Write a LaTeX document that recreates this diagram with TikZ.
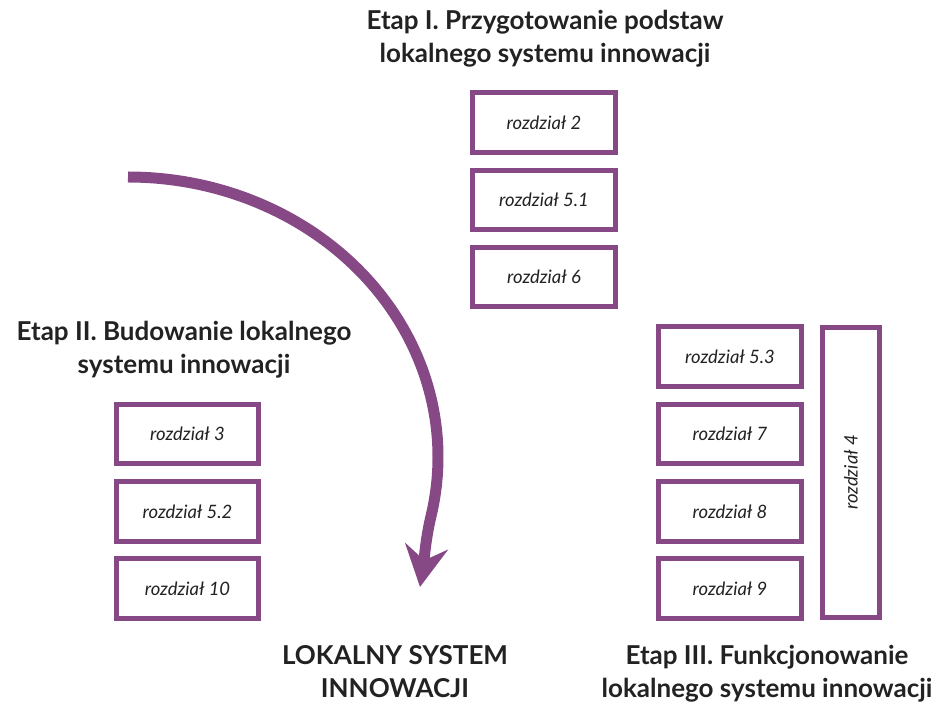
\documentclass[tikz,border=0pt]{standalone}
\usepackage{fontspec}
\setmainfont{Lato}
\usetikzlibrary{arrows.meta}
\definecolor{etapviolet}{RGB}{135,73,133}
\definecolor{etaptext}{RGB}{34,34,34}
\begin{document}
\begin{tikzpicture}[
    x=0.02cm, y=-0.02cm,
    chapter/.style={rectangle, draw=etapviolet, line width=0.1cm, fill=white, minimum width=2.86cm, minimum height=1.2cm, text=etaptext, font=\itshape\fontsize{10.5}{12}\selectfont},
    longchapter/.style={chapter, minimum width=1.14cm, minimum height=5.8cm},
    title/.style={align=center, text=etaptext, font=\bfseries\fontsize{14.8}{18.8}\selectfont},
    flow/.style={draw=etapviolet, line width=0.22cm, -{Stealth[length=0.82cm, width=0.86cm, inset=0.28cm]}}
]
    \useasboundingbox (0,0) rectangle (940,705);

    % Etap I
    \node[title] (etapI) at (545,38.5) {Etap I. Przygotowanie podstaw\\lokalnego systemu innowacji};
    \node[chapter] (r2) at (544,122.5) {rozdział 2};
    \node[chapter] (r51) at (544,200) {rozdział 5.1};
    \node[chapter] (r6) at (544,277) {rozdział 6};

    % Etap II
    \node[title] (etapII) at (184,349.5) {Etap II. Budowanie lokalnego\\systemu innowacji};
    \node[chapter] (r3) at (187.5,434) {rozdział 3};
    \node[chapter] (r52) at (187.5,511.5) {rozdział 5.2};
    \node[chapter] (r10) at (187.5,588.5) {rozdział 10};

    % Etap III
    \node[chapter] (r53) at (730,356.5) {rozdział 5.3};
    \node[chapter] (r7) at (730,434) {rozdział 7};
    \node[chapter] (r8) at (730,511.5) {rozdział 8};
    \node[chapter] (r9) at (730,588.5) {rozdział 9};
    \node[longchapter] (r4) at (851,472.5) {};
    \node[rotate=90, text=etaptext, font=\itshape\fontsize{10.5}{12}\selectfont] (r4label) at (r4.center) {rozdział 4};
    \node[title] (etapIII) at (767,674) {Etap III. Funkcjonowanie\\lokalnego systemu innowacji};

    % Wynik
    \node[title] (lsi) at (395,671.5) {LOKALNY SYSTEM\\INNOWACJI};

    % Strzalka
    \coordinate (arcstart) at (128,177);
    \coordinate (arctip) at (420,587);
    \draw[flow] (arcstart) arc[start angle=-90, end angle=12, x radius=310, y radius=280]
        .. controls +(-6,25) and +(4,-25) .. (arctip);
\end{tikzpicture}
\end{document}
